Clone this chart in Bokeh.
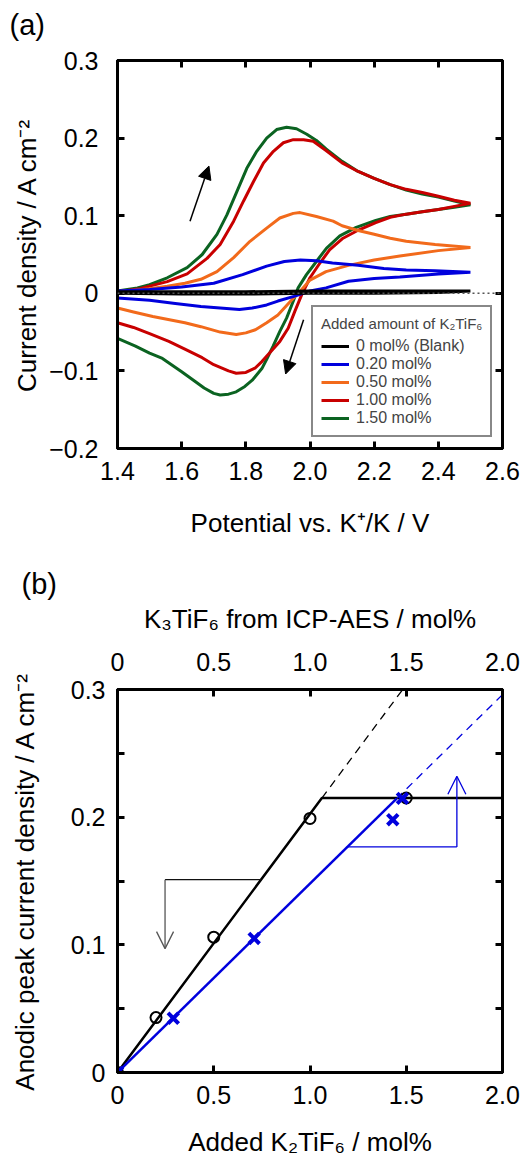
from bokeh.plotting import figure
from bokeh.models import (LinearAxis, FixedTicker, Range1d, Legend, LegendItem,
                          Arrow, NormalHead, OpenHead, Span)
from bokeh.layouts import column
from bokeh.embed import file_html
from bokeh.resources import INLINE

FONT = "Liberation Sans"

# ---------------- Panel (a): cyclic voltammograms ----------------
cv_labels = ["0 mol% (Blank)", "0.20 mol%", "0.50 mol%", "1.00 mol%", "1.50 mol%"]
cv_colors = ["#000000", "#0000dd", "#f26a1b", "#c80000", "#0b6321"]

blank_x = [1.40, 1.60, 1.80, 2.00, 2.20, 2.40, 2.50, 2.40, 2.20, 2.00, 1.80, 1.60, 1.40]
blank_y = [0.002, 0.002, 0.002, 0.003, 0.003, 0.003, 0.003, 0.001, 0.000, 0.000, -0.001, -0.001, 0.000]

blue_x = [1.40, 1.50, 1.60, 1.70, 1.79, 1.865, 1.92, 1.97, 2.02, 2.07, 2.15, 2.23, 2.30, 2.39, 2.50,
          2.40, 2.28, 2.20, 2.12, 2.05, 2.00, 1.95, 1.90, 1.865, 1.82, 1.78, 1.72, 1.66, 1.58, 1.50, 1.40]
blue_y = [0.003, 0.005, 0.008, 0.013, 0.024, 0.035, 0.041, 0.043, 0.042, 0.039, 0.036, 0.032, 0.030, 0.029, 0.027,
          0.025, 0.021, 0.019, 0.0155, 0.007, 0.003, -0.004, -0.010, -0.015, -0.019, -0.021, -0.019, -0.017, -0.013, -0.009, -0.006]

orange_x = [1.40, 1.50, 1.555, 1.61, 1.66, 1.71, 1.762, 1.813, 1.865, 1.906, 1.948, 1.969, 2.02, 2.072, 2.10, 2.15, 2.20, 2.25, 2.30, 2.39, 2.50,
            2.40, 2.28, 2.20, 2.12, 2.05, 2.00, 1.97, 1.94, 1.90, 1.865, 1.83, 1.80, 1.77, 1.72, 1.66, 1.61, 1.51, 1.45, 1.40]
orange_y = [0.002, 0.006, 0.009, 0.013, 0.018, 0.028, 0.046, 0.067, 0.084, 0.097, 0.103, 0.104, 0.099, 0.093, 0.087, 0.081, 0.076, 0.071, 0.067, 0.063, 0.059,
            0.055, 0.048, 0.043, 0.036, 0.028, 0.017, 0.003, -0.010, -0.028, -0.038, -0.047, -0.051, -0.053, -0.050, -0.043, -0.038, -0.030, -0.024, -0.019]

red_x = [1.40, 1.47, 1.555, 1.617, 1.679, 1.72, 1.762, 1.793, 1.824, 1.855, 1.886, 1.917, 1.948, 1.98, 2.01, 2.05, 2.10, 2.15, 2.20, 2.25, 2.30, 2.35, 2.40, 2.45, 2.50,
         2.45, 2.40, 2.35, 2.30, 2.25, 2.205, 2.144, 2.103, 2.061, 2.031, 2.00, 1.974, 1.953, 1.932, 1.906, 1.876, 1.85, 1.83, 1.80, 1.77, 1.746, 1.70, 1.664, 1.61, 1.56, 1.50, 1.45, 1.40]
red_y = [0.002, 0.006, 0.015, 0.025, 0.045, 0.063, 0.093, 0.119, 0.144, 0.168, 0.183, 0.194, 0.198, 0.198, 0.196, 0.184, 0.168, 0.157, 0.148, 0.140, 0.134, 0.130, 0.125, 0.120, 0.116,
         0.112, 0.108, 0.105, 0.102, 0.098, 0.091, 0.080, 0.071, 0.056, 0.039, 0.020, -0.002, -0.023, -0.045, -0.062, -0.076, -0.088, -0.096, -0.102, -0.103, -0.100, -0.092, -0.083, -0.072, -0.062, -0.052, -0.044, -0.038]

green_x = [1.40, 1.462, 1.50, 1.555, 1.617, 1.664, 1.71, 1.741, 1.772, 1.803, 1.834, 1.865, 1.896, 1.927, 1.958, 1.99, 2.02, 2.05, 2.10, 2.15, 2.20, 2.25, 2.30, 2.35, 2.40, 2.45, 2.50,
           2.45, 2.40, 2.35, 2.30, 2.25, 2.205, 2.144, 2.093, 2.051, 2.02, 1.989, 1.963, 1.948, 1.927, 1.906, 1.885, 1.865, 1.85, 1.82, 1.797, 1.77, 1.746, 1.72, 1.70, 1.67, 1.64, 1.60, 1.54, 1.50, 1.456, 1.40]
green_y = [0.003, 0.007, 0.011, 0.020, 0.033, 0.050, 0.076, 0.101, 0.131, 0.161, 0.183, 0.200, 0.211, 0.214, 0.212, 0.205, 0.197, 0.186, 0.170, 0.157, 0.148, 0.140, 0.133, 0.128, 0.124, 0.119, 0.114,
           0.111, 0.108, 0.105, 0.102, 0.099, 0.094, 0.085, 0.074, 0.058, 0.041, 0.024, 0.007, -0.010, -0.032, -0.049, -0.068, -0.085, -0.097, -0.112, -0.120, -0.127, -0.130, -0.131, -0.129, -0.122, -0.113, -0.101, -0.084, -0.077, -0.068, -0.058]

a_xticks = [1.4, 1.6, 1.8, 2.0, 2.2, 2.4, 2.6]
a_xtick_labels = ["1.4", "1.6", "1.8", "2.0", "2.2", "2.4", "2.6"]
a_yticks = [-0.2, -0.1, 0, 0.1, 0.2, 0.3]
a_ytick_labels = ["\u22120.2", "\u22120.1", "0", "0.1", "0.2", "0.3"]

# scan-direction arrows (x_start, y_start, x_end, y_end)
a_arrows = [(1.626, 0.093, 1.685, 0.164), (1.980, -0.034, 1.924, -0.104)]

# ---------------- Panel (b): anodic peak current ----------------
added_mol = [0, 0.2, 0.5, 1.0, 1.5]
icp_mol = [0, 0.29, 0.71, 1.43, 1.48]
peak_j = [0, 0.043, 0.106, 0.199, 0.215]
peak_j_icp = [0, 0.0425, 0.105, 0.198, 0.2147]

black_slope = 0.2025
black_plateau = 0.215
blue_slope = 0.148
blue_solid_end = 1.45

b_xticks = [0, 0.5, 1.0, 1.5, 2.0]
b_xtick_labels = ["0", "0.5", "1.0", "1.5", "2.0"]
b_yticks = [0, 0.05, 0.1, 0.15, 0.2, 0.25, 0.3]
b_ytick_labels = ["0", "", "0.1", "", "0.2", "", "0.3"]

# guide arrows: horizontal bar (x0, x1, y) then vertical arrow to y_end
b_black_guide = (0.247, 0.747, 0.151, 0.097)
b_blue_guide = (1.19, 1.763, 0.1767, 0.232)

BLUE = "#0000dd"
TICK_SIZE = "25px"
TITLE_SIZE = "26px"


def style_axis(ax, ticks, labels, show=True):
    ax.ticker = FixedTicker(ticks=ticks, minor_ticks=[])
    ax.major_label_overrides = {t: (l if show else "") for t, l in zip(ticks, labels)}
    ax.major_tick_in = 7
    ax.major_tick_out = 0
    ax.minor_tick_in = 0
    ax.minor_tick_out = 0
    ax.major_tick_line_width = 3
    ax.major_tick_line_color = "black"
    ax.axis_line_width = 3
    ax.axis_line_color = "black"
    ax.major_label_text_font = FONT
    ax.major_label_text_font_size = TICK_SIZE if show else "0px"
    ax.major_label_text_color = "black"
    if not show:
        ax.major_label_standoff = 0
    ax.axis_label_text_font = FONT
    ax.axis_label_text_font_size = TITLE_SIZE
    ax.axis_label_text_font_style = "normal"
    ax.axis_label_text_color = "black"


def style_tag(p, text, offset, standoff):
    p.title.text = text
    p.title.text_font = FONT
    p.title.text_font_size = "29px"
    p.title.text_font_style = "normal"
    p.title.text_color = "black"
    p.title.align = "left"
    p.title.offset = offset
    p.title.standoff = standoff


# ================= Figure (a) =================
pa = figure(width=525, height=565, x_range=Range1d(1.4, 2.6), y_range=Range1d(-0.2, 0.3),
            output_backend="svg", toolbar_location=None,
            min_border_left=115, min_border_right=23, min_border_top=60, min_border_bottom=117)
pa.grid.visible = False
pa.outline_line_color = "black"
pa.outline_line_width = 3
style_tag(pa, "(a)", -108, 0)

style_axis(pa.xaxis[0], a_xticks, a_xtick_labels)
style_axis(pa.yaxis[0], a_yticks, a_ytick_labels)
pa.xaxis[0].axis_label = "Potential vs. K\u207a/K / V"
pa.yaxis[0].axis_label = "Current density / A cm\u207b\u00b2"
pa.xaxis[0].major_label_standoff = 13
pa.xaxis[0].axis_label_standoff = 25
pa.yaxis[0].major_label_standoff = 19
pa.yaxis[0].axis_label_standoff = 4

ta = LinearAxis()
style_axis(ta, a_xticks, a_xtick_labels, show=False)
# a blank axis title keeps a small gap between the frame and the "(a)" tag
ta.axis_label = " "
ta.axis_label_standoff = 0
ta.axis_label_text_font_size = "16px"
pa.add_layout(ta, "above")
ra = LinearAxis()
style_axis(ra, a_yticks, a_ytick_labels, show=False)
pa.add_layout(ra, "right")

pa.add_layout(Span(location=0, dimension="width", line_color="#555555",
                   line_width=1.5, line_dash="2 3"))

series = [(blank_x, blank_y), (blue_x, blue_y), (orange_x, orange_y), (red_x, red_y), (green_x, green_y)]
renderers = [None] * 5
for i in [4, 3, 2, 1, 0]:
    xs, ys = series[i]
    renderers[i] = pa.line(xs, ys, line_color=cv_colors[i], line_width=3)

legend = Legend(items=[LegendItem(label=cv_labels[i], renderers=[renderers[i]]) for i in range(5)],
                location=(194, 11), title="Added amount of K\u2082TiF\u2086")
legend.title_text_font = FONT
legend.title_text_font_size = "15px"
legend.title_text_font_style = "normal"
legend.title_standoff = 5
legend.label_text_font = FONT
legend.label_text_font_size = "16px"
legend.label_height = 18
legend.glyph_height = 18
legend.glyph_width = 28
legend.label_standoff = 7
legend.spacing = 0
legend.padding = 8
legend.margin = 0
legend.border_line_color = "#111111"
legend.border_line_width = 2
legend.background_fill_alpha = 1
pa.add_layout(legend)

for (x0, y0, x1, y1) in a_arrows:
    pa.add_layout(Arrow(end=NormalHead(size=13, fill_color="black", line_color="black"),
                        x_start=x0, y_start=y0, x_end=x1, y_end=y1,
                        line_color="black", line_width=1.5))

# ================= Figure (b) =================
pb = figure(width=525, height=594, x_range=Range1d(0, 2.0), y_range=Range1d(0, 0.3),
            output_backend="svg", toolbar_location=None,
            min_border_left=117, min_border_right=20, min_border_top=120, min_border_bottom=87)
pb.grid.visible = False
pb.outline_line_color = "black"
pb.outline_line_width = 3
style_tag(pb, "(b)", -96, 1)

style_axis(pb.xaxis[0], b_xticks, b_xtick_labels)
style_axis(pb.yaxis[0], b_yticks, b_ytick_labels)
pb.xaxis[0].axis_label = "Added K\u2082TiF\u2086 / mol%"
pb.yaxis[0].axis_label = "Anodic peak current density / A cm\u207b\u00b2"
pb.xaxis[0].major_label_standoff = 13
pb.xaxis[0].axis_label_standoff = 20
pb.yaxis[0].major_label_standoff = 12
pb.yaxis[0].axis_label_standoff = 28

tb = LinearAxis(axis_label="K\u2083TiF\u2086 from ICP-AES / mol%")
style_axis(tb, b_xticks, b_xtick_labels)
tb.major_label_standoff = 19
tb.axis_label_standoff = 16
pb.add_layout(tb, "above")
rb = LinearAxis()
style_axis(rb, b_yticks, b_ytick_labels, show=False)
pb.add_layout(rb, "right")

x_max = pb.x_range.end
y_max = pb.y_range.end
brk = black_plateau / black_slope
pb.line([0, brk, x_max], [0, black_plateau, black_plateau], line_color="black", line_width=2.5)
pb.line([brk, y_max / black_slope], [black_plateau, y_max], line_color="black",
        line_width=1.3, line_dash="8 6")
pb.line([0, blue_solid_end], [0, blue_slope * blue_solid_end], line_color=BLUE, line_width=2.5)
pb.line([blue_solid_end, x_max], [blue_slope * blue_solid_end, blue_slope * x_max],
        line_color=BLUE, line_width=1.3, line_dash="8 6")

pb.scatter(added_mol, peak_j, marker="circle", size=11, fill_color=None,
           line_color="black", line_width=2)
pb.scatter(icp_mol, peak_j_icp, marker="x", size=15, line_color=BLUE, line_width=4)

# guide arrows
gx0, gx1, gy, gy_end = b_black_guide
pb.line([gx0, gx1], [gy, gy], line_color="#111111", line_width=1.3)
pb.add_layout(Arrow(end=OpenHead(size=17, line_color="#555555", line_width=1.3),
                    x_start=gx0, y_start=gy, x_end=gx0, y_end=gy_end,
                    line_color="#555555", line_width=1.3))
bx0, bx1, by, by_end = b_blue_guide
pb.line([bx0, bx1], [by, by], line_color=BLUE, line_width=1.3)
pb.add_layout(Arrow(end=OpenHead(size=18, line_color=BLUE, line_width=1.3),
                    x_start=bx1, y_start=by, x_end=bx1, y_end=by_end,
                    line_color=BLUE, line_width=1.3))

layout = column(pa, pb)
open("out.html", "w").write(file_html(layout, INLINE))
